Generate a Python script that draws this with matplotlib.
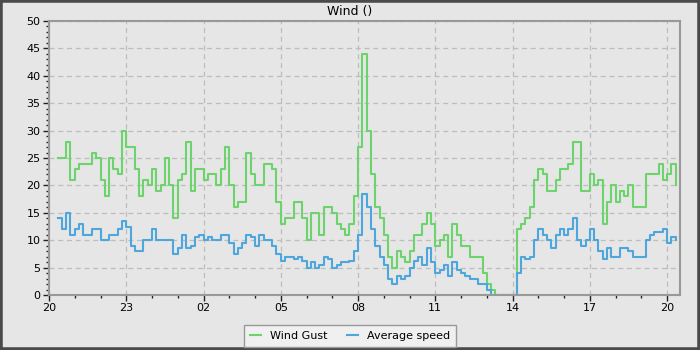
import pandas as pd
import matplotlib
matplotlib.use("Agg")
import matplotlib.pyplot as plt
import matplotlib.dates as mdates
from matplotlib.patches import Rectangle

# 10-minute samples starting 20:20
start = "2023-11-20 20:20"
gust = [
    25, 25, 28, 21, 23, 24, 24, 24, 26, 25, 21, 18, 25, 23, 22, 30, 27, 27, 23, 18, 21, 20, 23,
    19, 20, 25, 20, 14, 21, 22, 28, 19, 23, 23, 21, 22, 22, 20, 23, 27, 20, 16, 17, 17, 26, 22, 20, 20,
    24, 24, 23, 17, 13, 14, 14, 17, 17, 14, 10, 15, 15, 11, 16, 16, 15, 13, 12, 11, 13, 18, 27, 44,
    30, 22, 16, 14, 11, 7, 5, 8, 7, 6, 8, 11, 11, 13, 15, 13, 9, 10, 11, 7, 13, 11, 9, 9,
    7, 7, 7, 4, 2, 1, 0, 0, 0, 0, 0, 12, 13, 14, 16, 21, 23, 22, 19, 19, 21, 23, 23, 24,
    28, 28, 19, 19, 22, 20, 21, 13, 17, 20, 17, 19, 18, 20, 16, 16, 16, 22, 22, 22, 24, 21, 22, 24, 20,
]
avg = [
    14, 12, 15, 11, 12, 13, 11, 11, 12, 12, 10, 10, 11, 11, 12, 13.5, 12.5, 9, 8, 8, 10, 10, 12,
    10, 10, 10, 10, 7.5, 8.5, 11, 8.5, 9, 10.5, 11, 10, 10.5, 10, 10, 11, 11, 9.5, 7.5, 8.5, 9.5, 11, 10.5, 9, 11,
    10, 10, 9, 7.5, 6.2, 7, 7, 6.5, 7, 6.2, 5, 6, 5, 5.5, 7, 6.5, 5, 5.5, 6, 6, 6.2, 8, 11, 18.5,
    16, 12, 9, 7, 5.5, 3, 2, 3.5, 3, 3.5, 5, 6.2, 7, 5.5, 8.5, 6, 4, 4.5, 5.5, 3.5, 6, 4.5, 4, 3.5,
    3, 3, 2, 2, 1, 0, 0, 0, 0, 0, 0, 4, 7, 6.5, 7, 10, 12, 11, 10, 8.5, 11, 12, 11, 12,
    14, 10, 9, 10, 12, 10, 8, 6.5, 8.5, 7, 7, 8.5, 8.5, 8, 7, 7, 7, 10, 11, 11.5, 11.5, 12, 9.5, 10.5, 10,
]
times = pd.date_range(start, periods=len(gust), freq="10min")

bg = "#e6e6e6"
fig = plt.figure(figsize=(7, 3.5), dpi=100, facecolor=bg)
fig.patches.append(Rectangle((0, 0), 1, 1, transform=fig.transFigure, fill=False,
                             edgecolor="#4a4a4a", linewidth=4))
ax = fig.add_axes([0.07, 0.157, 0.9014, 0.783], facecolor=bg)

ax.plot(times, gust, drawstyle="steps-post", color="#6dd46d", lw=1.5, label="Wind Gust")
ax.plot(times, avg, drawstyle="steps-post", color="#4ea7dc", lw=1.5, label="Average speed")

t0 = pd.Timestamp("2023-11-20 20:00")
ax.set_xlim(t0, t0 + pd.Timedelta(hours=24.5))
ax.set_ylim(0, 50)
ax.xaxis.set_major_locator(mdates.HourLocator(byhour=[20, 23, 2, 5, 8, 11, 14, 17]))
ax.xaxis.set_minor_locator(mdates.HourLocator())
ax.xaxis.set_major_formatter(mdates.DateFormatter("%H"))
ax.set_yticks(range(0, 51, 5))
ax.set_yticks(range(0, 51), minor=True)

ax.grid(True, which="major", linestyle=(0, (4, 3)), color="#bdbdbd", lw=0.9)
ax.tick_params(which="major", length=4, width=1, color="#222222", labelsize=8, pad=2)
ax.tick_params(which="minor", length=2.5, width=1, color="#222222")
for s in ax.spines.values():
    s.set_color("#999999")
    s.set_linewidth(1.5)

fig.text(0.5, 0.968, "Wind ()", ha="center", va="center", fontsize=9)
fig.legend(loc="center", bbox_to_anchor=(0.5, 0.04), ncol=2, fontsize=8,
           frameon=True, fancybox=False, edgecolor="#999999", facecolor="#f0f0f0",
           handlelength=1.0, columnspacing=1.8, borderpad=0.5, framealpha=1)

fig.savefig("out.png", dpi=100, facecolor=bg)
